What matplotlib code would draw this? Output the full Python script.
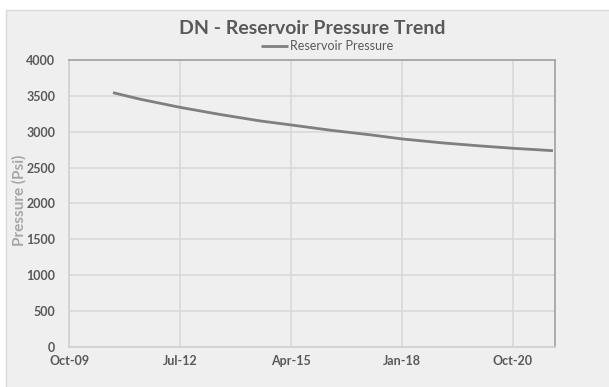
import datetime as dt
import matplotlib
matplotlib.use('agg')
import matplotlib.pyplot as plt
import matplotlib.dates as mdates
from matplotlib.patches import Rectangle

# reservoir pressure readings (psi)
datas = ['2010-11-01', '2011-07-01', '2012-07-01', '2013-07-01', '2014-07-01',
         '2015-04-01', '2016-04-01', '2017-04-01', '2018-01-01', '2019-01-01',
         '2020-01-01', '2020-10-01', '2021-10-01']
pressao = [3545, 3455, 3340, 3240, 3150, 3095, 3020, 2955, 2900, 2845, 2800, 2770, 2736]

ticks_x = ['2009-10-01', '2012-07-01', '2015-04-01', '2018-01-01', '2020-10-01']
ticks_y = [0, 500, 1000, 1500, 2000, 2500, 3000, 3500, 4000]

cor_texto = '#595959'
fonte = ['Lato', 'DejaVu Sans']

datas = [dt.datetime.strptime(d, '%Y-%m-%d') for d in datas]
ticks_x = [dt.datetime.strptime(d, '%Y-%m-%d') for d in ticks_x]

fig = plt.figure(figsize=(6.09, 3.87), dpi=100)
fig.patch.set_facecolor('white')

# fundo cinza da area do grafico
fundo = Rectangle((6 / 609, -0.01), 1, 1.01 - 10 / 387, transform=fig.transFigure,
                  facecolor='#EFEFEF', edgecolor='#D9D9D9', linewidth=1, zorder=-10)
fig.add_artist(fundo)

ax = fig.add_axes([69.3 / 609, 40 / 387, (555.3 - 69.3) / 609, 287 / 387])
ax.set_facecolor('#EFEFEF')

ax.plot(datas, pressao, color='#7F7F7F', linewidth=2.0, solid_capstyle='butt',
        solid_joinstyle='round', label='Reservoir Pressure')

ax.set_ylim(0, 4000)
ax.set_yticks(ticks_y)
ax.set_xlim(ticks_x[0], dt.datetime(2021, 10, 22))
ax.set_xticks(ticks_x)
ax.xaxis.set_major_formatter(mdates.DateFormatter('%b-%y'))

ax.grid(True, color='#D9D9D9', linewidth=1.2)
ax.set_axisbelow(True)
ax.tick_params(axis='x', length=0, pad=6, labelcolor=cor_texto)
ax.tick_params(axis='y', length=0, pad=10, labelcolor=cor_texto)
for lbl in ax.get_xticklabels() + ax.get_yticklabels():
    lbl.set_family(fonte)
    lbl.set_fontsize(9)
    lbl.set_fontweight('bold')

ax.spines['left'].set_color('#D0D0D0')
ax.spines['bottom'].set_color('#D0D0D0')
ax.spines['top'].set_color('#A0A0A0')
ax.spines['right'].set_color('#A0A0A0')
for s in ax.spines.values():
    s.set_linewidth(1.2)

ax.set_ylabel('Pressure (Psi)', color='#A6A6A6', fontsize=11, fontweight='bold',
              family=fonte)
ax.yaxis.set_label_coords(-0.087, 0.512)

fig.text(0.512, 1 - 28 / 387, 'DN - Reservoir Pressure Trend', ha='center', va='center',
         fontsize=14, fontweight='bold', color=cor_texto, family=fonte)

leg = ax.legend(loc='center', bbox_to_anchor=(0.53, 1 + 14 / 287), frameon=False,
                prop={'family': fonte, 'size': 9}, handlelength=2.2, handletextpad=0.1,
                borderpad=0)
for t in leg.get_texts():
    t.set_color(cor_texto)

plt.savefig('out.png', dpi=100)
plt.close('all')
